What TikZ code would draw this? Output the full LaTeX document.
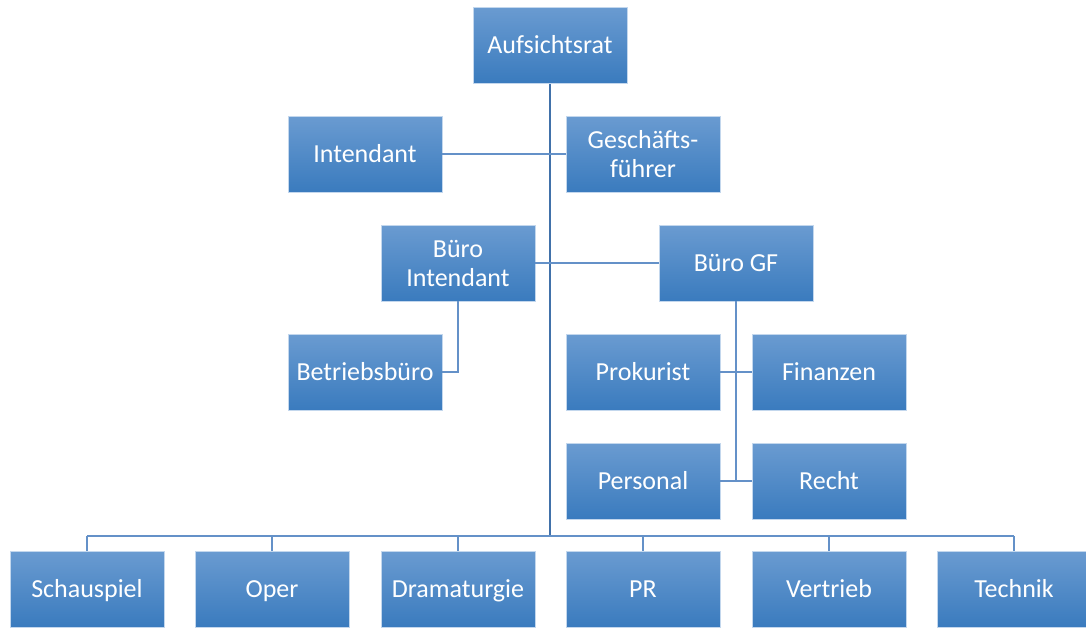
\documentclass[tikz,border=0pt]{standalone}
\usepackage{fontspec}
\setmainfont{Carlito}
\definecolor{boxtop}{RGB}{106,155,209}
\definecolor{boxbot}{RGB}{58,123,190}
\definecolor{trunk}{RGB}{65,113,170}
\definecolor{twig}{RGB}{100,145,200}
\begin{document}
\begin{tikzpicture}[x=1pt, y=-1pt,
    unit/.style = {minimum width = 154pt, minimum height = 76pt, inner sep = 2pt,
      top color = boxtop, bottom color = boxbot, draw = boxtop!40!white, line width = 0.8pt,
      text = white, align = center, font = \fontsize{26}{29}\selectfont,
      text height = 20pt, text depth = 4pt},
    twolines/.style = {text height = , text depth = },
    trunkline/.style = {draw = trunk, line width = 2.6pt},
    twigline/.style = {draw = twig, line width = 2pt}]
    \useasboundingbox (0, 0) rectangle (1086, 627);

    \coordinate (bus) at (550, 536);

    % lines first, boxes on top
    \draw[trunkline] (550, 83) -- (bus);
    \draw[twigline] (87, 536) -- (1014, 536);

    \node[unit] (aufsicht) at (550, 45) {Aufsichtsrat};

    \node[unit] (intendant) at (365, 154) {Intendant};
    \node[unit, twolines] (gf) at (643, 154) {Geschäfts-\\führer};

    \node[unit, twolines] (buerointendant) at (458, 263) {Büro\\Intendant};
    \node[unit] (buerogf) at (736, 263) {Büro GF};

    \node[unit] (betrieb) at (365, 372) {Betriebsbüro};
    \node[unit] (prokurist) at (643, 372) {Prokurist};
    \node[unit] (finanzen) at (829, 372) {Finanzen};
    \node[unit] (personal) at (643, 481) {Personal};
    \node[unit] (recht) at (829, 481) {Recht};

    \node[unit] (schauspiel) at (87, 589) {Schauspiel};
    \node[unit] (oper) at (272, 589) {Oper};
    \node[unit] (dramaturgie) at (458, 589) {Dramaturgie};
    \node[unit] (pr) at (643, 589) {PR};
    \node[unit] (vertrieb) at (829, 589) {Vertrieb};
    \node[unit] (technik) at (1014, 589) {Technik};

    \draw[twigline] (intendant) -- (gf);
    \draw[twigline] (buerointendant) -- (buerogf);
    \draw[twigline] (buerointendant.south) |- (betrieb.east);

    \coordinate (gfend) at (736, 481);
    \draw[twigline] (buerogf.south) -- (gfend);
    \draw[twigline] (prokurist) -- (finanzen);
    \draw[twigline] (personal) -- (recht);

    \foreach \dept in {schauspiel, oper, dramaturgie, pr, vertrieb, technik}
      \draw[twigline] (\dept.north) -- (\dept.north |- bus);
  \end{tikzpicture}
\end{document}
